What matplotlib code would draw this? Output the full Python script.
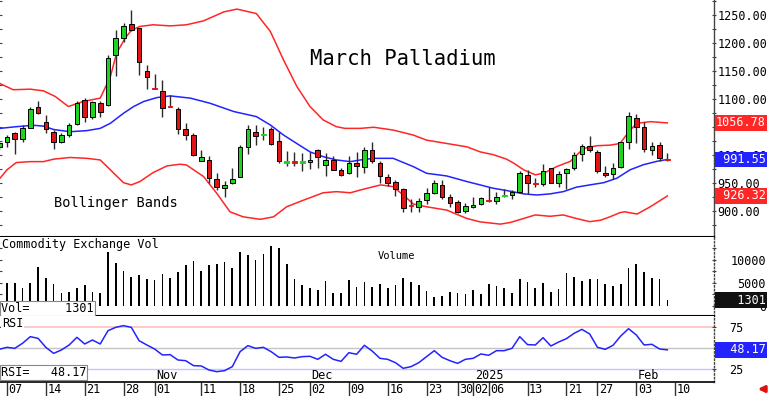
import numpy as np
import matplotlib.pyplot as plt
from matplotlib import transforms

plt.rcParams['font.family'] = ['DejaVu Sans Mono', 'DejaVu Sans']

# trading-day index, 0 = Oct 07 2024 ... 85 = Feb 07 2025
day = np.arange(-1, 86)

# OHLC
opens = [1013, 1023, 1038, 1028, 1048, 1086, 1058, 1041, 1022, 1036,
         1054, 1098, 1067, 1093, 1089, 1178, 1208, 1233, 1226, 1150,
         1119, 1113, 1087, 1081, 1045, 1036, 989, 991, 956, 941,
         949, 961, 1013, 1041, 1035, 1045, 1024, 986, 988, 985,
         987, 1008, 981, 991, 972, 967, 986, 978, 1008, 986,
         960, 951, 938, 909, 907, 919, 932, 946, 924, 916,
         900, 906, 912, 918.5, 918, 927, 927.5, 933, 964, 950,
         947, 976, 950, 967, 976, 1001, 1016, 1005, 968, 965,
         978, 1023, 1066, 1049, 1008, 1017, 992]
highs = [1023, 1035, 1041, 1053, 1085, 1096, 1070, 1044, 1038, 1056,
         1095, 1102, 1096, 1095, 1178, 1223, 1236, 1258, 1227, 1160,
         1144, 1133, 1107, 1085, 1056, 1039, 1008, 998, 968, 953,
         977, 1017, 1053, 1053, 1050, 1050, 1041, 1007, 1005, 1003,
         1005, 1010, 1003, 997, 976, 997, 1005, 1014, 1023, 989,
         966, 955, 940, 920, 922, 940, 955, 955, 930, 919,
         914, 925, 925, 943, 934, 938, 937, 970, 973, 958,
         983, 977, 970, 976, 1005, 1019, 1033, 1008, 980, 985,
         1023, 1076, 1072, 1059, 1023, 1022, 1003]
lows = [1008, 1014, 1001, 1022, 1047, 1073, 1039, 1011, 1020, 1031,
        1053, 1059, 1064, 1067, 1087, 1140, 1202, 1220, 1142, 1118,
        1117, 1067, 1085, 1037, 1026, 998, 988, 949, 937, 925,
        948, 960, 1001, 1017, 1026, 1017, 985, 979, 980, 970,
        974, 976, 962, 972, 962, 966, 961, 967, 986, 950,
        944, 926, 898, 898, 897, 912, 930, 920, 906, 895,
        895, 904, 910, 916, 912, 925, 920, 931, 930, 942,
        944, 949, 943, 938, 972, 989, 1005, 967, 961, 956,
        976, 1011, 1020, 1005, 1000, 989, 989]
closes = [1020, 1032, 1028, 1048, 1081, 1075, 1045, 1023, 1035, 1053,
          1092, 1067, 1094, 1077, 1172, 1208, 1230, 1223, 1166, 1139,
          1118, 1083, 1086, 1045, 1036, 1000, 995, 958, 942, 946,
          956, 1013, 1045, 1033, 1036, 1019, 988, 988, 985, 988,
          991, 995, 991, 973, 964, 986, 980, 1008, 988, 962,
          950, 938, 904, 908, 918, 932, 949, 925, 913, 898,
          908, 911, 922, 917.5, 925, 928, 933.5, 967, 949, 948.5,
          970, 950, 965, 974, 1000, 1016, 1008, 970, 963, 976,
          1022, 1069, 1049, 1010, 1016, 994, 991]

volume = [3620, 4930, 4930, 3990, 5070, 8550, 6020, 4780, 2750, 3120,
          3990, 4490, 3040, 2750, 11670, 9280, 7610, 6230, 6740, 5800,
          5650, 6960, 6020, 7320, 8910, 9710, 7680, 8990, 9060, 9490,
          8260, 11740, 11090, 10070, 11230, 13040, 12610, 9130, 5870, 4570,
          3910, 3480, 5440, 2900, 2900, 5580, 4200, 5150, 4200, 4780,
          3840, 4570, 6020, 5290, 4570, 3260, 2030, 2250, 3040, 2750,
          2610, 3410, 2540, 4780, 4420, 3910, 2900, 5800, 5150, 3840,
          4930, 3040, 3620, 7250, 6380, 5440, 5800, 5870, 4780, 4350,
          4780, 8190, 9060, 7460, 6020, 5800, 1301]

rsi = [48.8, 51.2, 50.0, 56.0, 63.9, 61.9, 51.2, 44.0, 48.0, 54.0,
       63.1, 55.2, 59.9, 55.2, 71.0, 75.0, 77.0, 75.0, 59.1, 54.0,
       49.2, 42.1, 42.5, 36.1, 35.3, 29.4, 29.0, 24.2, 22.2, 23.4,
       28.2, 46.0, 53.2, 50.0, 51.2, 46.0, 39.3, 39.7, 38.5, 40.1,
       40.5, 36.9, 42.9, 36.9, 34.5, 44.8, 42.9, 53.6, 46.8, 38.1,
       36.9, 32.9, 26.2, 28.2, 32.9, 40.1, 47.2, 39.3, 35.3, 32.1,
       36.9, 38.1, 43.3, 41.7, 47.2, 47.2, 50.0, 63.9, 54.4, 54.0,
       62.7, 52.8, 57.5, 61.5, 67.9, 72.6, 67.1, 51.2, 48.8, 53.6,
       64.7, 73.4, 65.9, 54.0, 54.8, 49.2, 48.17]

# Bollinger bands, sampled along the drawn curves
up_day = [-0.9, 0.8, 3, 4.7, 6.2, 7.9, 9.8, 12, 13.3, 14.1, 15.2, 16, 17.1,
          18.8, 21, 23.1, 25.3, 27.9, 29.6, 32.1, 33.9, 35.6, 37.3, 39, 40.7,
          42.4, 43.5, 45.5, 47.2, 49.7, 52.3, 54, 56.6, 59.2, 60.9, 62.6,
          64.3, 65.2, 66.5, 68, 69.1, 70.8, 72.5, 74.2, 75.9, 77.6, 78.9,
          80.2, 81.1, 82.8, 85]
up_band = [1127, 1116, 1117, 1114, 1104, 1086, 1095, 1101, 1139, 1181, 1208,
           1222, 1229, 1232, 1230, 1232, 1239, 1255, 1260, 1252, 1220, 1169,
           1122, 1086, 1062, 1050, 1047, 1047, 1049, 1044, 1035, 1026, 1020,
           1014, 1005, 1000, 992, 985, 973, 964, 967, 979, 988, 1011, 1016,
           1017, 1020, 1044, 1056, 1059, 1056.78]
mid_day = [-0.9, 1.2, 3.4, 4.7, 6, 8.1, 10.3, 12, 13.3, 15, 16.3, 17.6, 19.3,
           21, 23.6, 26.1, 29.2, 32.1, 33.9, 35.6, 37.3, 39, 40.7, 42.4, 44.2,
           45.5, 47.2, 49.7, 52.3, 54, 56.6, 59.2, 60.9, 62.6, 64.3, 66.5,
           68.2, 69.9, 71.6, 73.3, 75, 76.8, 78.5, 80.2, 81.9, 83.6, 85]
mid_band = [1047, 1050, 1052.5, 1051, 1045, 1041, 1043, 1047, 1056, 1074,
            1086, 1095, 1102, 1105, 1101, 1092, 1077, 1068, 1053, 1035, 1020,
            1005, 996.5, 990.6, 987.6, 990.6, 993.5, 993.5, 978.7, 966.8, 962,
            952, 946, 940, 936, 930, 928, 930, 934, 942, 946, 950, 958, 973,
            982, 988, 991.55]
low_day = [-0.9, 0, 1.2, 3, 4.7, 6, 8.1, 10.3, 12, 13.3, 15, 16, 17.1, 18.8,
           20.6, 22.3, 23.1, 25.3, 27, 28.7, 30.4, 32.6, 34.3, 36, 38.2, 40.7,
           42.4, 44.2, 45.5, 47.2, 48.1, 49.7, 51, 52.3, 54, 56.6, 59.2, 60.9,
           63.5, 64.8, 68, 69.9, 71.6, 73.3, 75, 76.4, 77.6, 78.9, 79.5, 81.1,
           82.8, 85]
low_band = [958, 973, 986, 987.6, 987.6, 992, 995, 993.5, 990.6, 973, 950, 946,
            952, 968, 980, 983, 981.6, 961, 931, 898, 889, 884.6, 889, 907,
            919, 932, 934, 932, 937, 943, 946, 943, 928, 912, 907, 901, 886,
            880, 876, 879, 892.4, 890, 892.4, 886, 880.4, 883, 889, 896.5,
            898, 894, 907, 926.32]

price_ticks = [900, 950, 1000, 1050, 1100, 1150, 1200, 1250]
tick_days = [0, 5, 10, 15, 19, 25, 30, 35, 39, 44, 49, 54, 58, 60, 62, 67,
             72, 76, 81, 86]
tick_labels = ['07', '14', '21', '28', '01', '11', '18', '25', '02', '09',
               '16', '23', '30', '02', '06', '13', '21', '27', '03', '10']
month_days = [19, 39, 60, 81]
month_labels = ['Nov', 'Dec', '2025', 'Feb']

GREEN = '#1ed41e'
RED = '#e01414'
BAND_RED = '#ff2626'
BLUE = '#2323ff'
FS = 8.5

fig = plt.figure(figsize=(7.68, 3.96), dpi=100)
W, H = 768.0, 396.0
rw = 714 / W
ax = fig.add_axes([0, 1 - 237 / H, rw, 237 / H])
axv = fig.add_axes([0, 1 - 316 / H, rw, 79 / H], sharex=ax)
axr = fig.add_axes([0, 1 - 381.5 / H, rw, 65.5 / H], sharex=ax)

for a in (ax, axv, axr):
    a.spines['left'].set_visible(False)
    a.spines['top'].set_visible(False)
    a.spines['right'].set_color('#444444')
    a.spines['right'].set_linewidth(1)
    a.spines['bottom'].set_color('black')
    a.spines['bottom'].set_linewidth(1.5)
    a.yaxis.tick_right()
    a.tick_params(axis='y', which='both', left=True, right=True,
                  labelleft=False, labelright=True, direction='inout',
                  length=3, width=0.8, color='#444444', labelsize=FS)
for a in (axv, axr):
    a.spines['right'].set_linestyle(':')
ax.tick_params(axis='x', bottom=False, labelbottom=False)
axv.tick_params(axis='x', bottom=False, labelbottom=False)

ax.set_xlim(-0.9, 91.0)

# ---- price panel ----
o = np.array(opens, float)
c = np.array(closes, float)
up = c >= o
cols = np.where(up, GREEN, RED)
body_lo = np.minimum(o, c)
body_h = np.maximum(np.abs(c - o), 1.3)
edges = np.where(np.abs(c - o) > 3, 'black', cols)

ax.plot(up_day, up_band, color=BAND_RED, lw=1.1, zorder=1)
ax.plot(low_day, low_band, color=BAND_RED, lw=1.1, zorder=1)
ax.plot(mid_day, mid_band, color=BLUE, lw=1.1, zorder=1)
ax.vlines(day, lows, highs, color='#2a2a2a', lw=1.0, zorder=2)
ax.bar(day, body_h, bottom=body_lo, width=0.6, color=cols,
       edgecolor=edges, linewidth=0.7, zorder=3)

ax.set_ylim(853, 1276.25)
ax.set_yticks(price_ticks)
ax.set_yticks(np.arange(875, 1276, 25), minor=True)
# the 1050 label sits fully under the upper-band value box
ax.set_yticklabels(['' if v == 1050 else '%.2f' % v for v in price_ticks])
ax.tick_params(axis='y', which='major', pad=0.8)

ax.text(310 / 714, (237 - 65) / 237, 'March Palladium', transform=ax.transAxes,
        fontsize=14.8, va='baseline', ha='left')
ax.text(54 / 714, (237 - 207.5) / 237, 'Bollinger Bands', transform=ax.transAxes,
        fontsize=9.8, va='baseline', ha='left')

yt = ax.get_yaxis_transform()
for val, txt, fc in [(up_band[-1], '%.2f' % up_band[-1], BAND_RED),
                     (mid_band[-1], ' %.2f' % mid_band[-1], BLUE),
                     (low_band[-1], ' %.2f' % low_band[-1], BAND_RED)]:
    ax.text(766 / 714, val, txt, transform=yt, ha='right', va='center',
            fontsize=FS, color='white', clip_on=False, zorder=10,
            bbox=dict(boxstyle='square,pad=0.12', fc=fc, ec='none'))

# ---- volume panel ----
axv.bar(day, volume, width=0.22, color='black', zorder=2)
axv.set_ylim(-2174, 15000)
axv.set_yticks([0, 5000, 10000])
axv.set_yticks([2500, 7500, 12500], minor=True)
axv.set_yticklabels(['0', '5000', '10000'])
axv.tick_params(axis='y', which='major', pad=36)
for t in axv.get_yticklabels():
    t.set_ha('right')
axv.text(2 / 714, (316 - 248.3) / 79, 'Commodity Exchange Vol',
         transform=axv.transAxes, fontsize=FS, va='baseline')
axv.text(377.5 / 714, (316 - 259.3) / 79, 'Volume', transform=axv.transAxes,
         fontsize=7.5, va='baseline')
axv.text(766 / 714, volume[-1], '   %d' % volume[-1],
         transform=axv.get_yaxis_transform(), ha='right', va='center',
         fontsize=FS, color='white', clip_on=False, zorder=10,
         bbox=dict(boxstyle='square,pad=0.12', fc='#111111', ec='none'))
axv.text(1 / 714, (316 - 308.3) / 79, 'Vol=     %d' % volume[-1],
         transform=axv.transAxes, fontsize=FS, va='center', zorder=10,
         bbox=dict(boxstyle='square,pad=0.08', fc='white', ec='#888888', lw=0.8))

# ---- RSI panel ----
axr.axhline(75, color='#ffc4c4', lw=1.3, zorder=1)
axr.axhline(50, color='#c4c4c4', lw=1.0, zorder=1)
axr.axhline(25, color='#c4c4ff', lw=1.0, zorder=1)
axr.plot(day, rsi, color=BLUE, lw=1.1, zorder=2)
axr.set_ylim(10.5, 88.5)
axr.set_yticks([25, 75])
axr.set_yticklabels(['25', '75'])
axr.tick_params(axis='y', which='major', pad=20)
for t in axr.get_yticklabels():
    t.set_ha('right')
axr.spines['bottom'].set_linewidth(1.2)
axr.text(2 / 714, (381.5 - 327) / 65.5, 'RSI', transform=axr.transAxes,
         fontsize=FS, va='baseline', zorder=5,
         bbox=dict(boxstyle='square,pad=0.05', fc='white', ec='none'))
axr.text(766 / 714, rsi[-1], '  %.2f' % rsi[-1],
         transform=axr.get_yaxis_transform(), ha='right', va='center',
         fontsize=FS, color='white', clip_on=False, zorder=10,
         bbox=dict(boxstyle='square,pad=0.12', fc=BLUE, ec='none'))
axr.text(1 / 714, (381.5 - 372.5) / 65.5, 'RSI=   %.2f' % rsi[-1],
         transform=axr.transAxes, fontsize=FS, va='center', zorder=10,
         bbox=dict(boxstyle='square,pad=0.08', fc='white', ec='#888888', lw=0.8))

# date axis
axr.set_xticks(tick_days)
axr.tick_params(axis='x', direction='out', length=10.5, width=1.0,
                color='#333333', labelbottom=False)
off = transforms.offset_copy(axr.get_xaxis_transform(), fig=fig, x=1.5, y=0,
                             units='dots')
for d, lab in zip(tick_days, tick_labels):
    axr.text(d, -0.115, lab, transform=off, ha='left', va='center',
             fontsize=FS, clip_on=False)
for d, lab in zip(month_days, month_labels):
    axr.text(d, 0.04, lab, transform=off, ha='left', va='baseline',
             fontsize=FS, clip_on=False)

axr.annotate('', xy=(755, 7), xytext=(768, 7), xycoords='figure pixels',
             textcoords='figure pixels',
             arrowprops=dict(arrowstyle='-|>', color='#e01010', lw=2.2,
                             mutation_scale=9))

fig.savefig('out.png', dpi=100)
